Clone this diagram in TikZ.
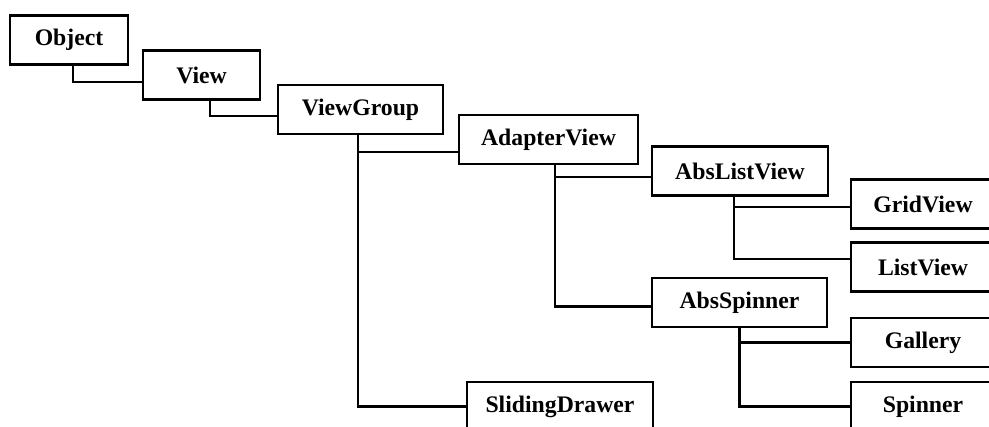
\documentclass[tikz,border=0pt]{standalone}
\usepackage{fontspec}
\setmainfont{Liberation Serif}
\usepackage{tikz}

\begin{document}
\begin{tikzpicture}[x=0.02cm, y=-0.02cm,
    cls/.style={draw, line width=1.4pt, fill=white, inner sep=0pt, minimum height=0.98cm, font=\fontsize{13.5}{16}\selectfont\bfseries},
    link/.style={line width=1.2pt}]
        \clip (0,0) rectangle (989,426);
        \fill[white] (0,0) rectangle (989,426);

        \node[cls, minimum width=2.36cm] (object) at (69,40) {Object};
        \node[cls, minimum width=2.34cm] (view) at (201.5,75) {View};
        \node[cls, minimum width=3.3cm] (viewgroup) at (360.5,109.5) {ViewGroup};
        \node[cls, minimum width=3.58cm] (adapterview) at (548.5,139.5) {AdapterView};
        \node[cls, minimum width=3.52cm] (abslistview) at (740,171) {AbsListView};
        \node[cls, minimum width=2.88cm] (gridview) at (923,204) {GridView};
        \node[cls, minimum width=2.88cm] (listview) at (923,267) {ListView};
        \node[cls, minimum width=3.5cm] (absspinner) at (739.5,302.5) {AbsSpinner};
        \node[cls, minimum width=2.88cm] (gallery) at (923,342.5) {Gallery};
        \node[cls, minimum width=2.88cm] (spinner) at (923,406.5) {Spinner};
        \node[cls, minimum width=3.72cm] (slidingdrawer) at (560,406.5) {SlidingDrawer};

        \draw[link] ([shift={(4,0)}]object.south) |- ([shift={(0,7)}]view.west);
        \draw[link] ([shift={(8.5,0)}]view.south) |- ([shift={(0,6.5)}]viewgroup.west);
        \draw[link] ([shift={(-2.5,0)}]viewgroup.south) |- ([shift={(0,12.5)}]adapterview.west);
        \draw[link] ([shift={(-2.5,0)}]viewgroup.south) |- (slidingdrawer.west);
        \draw[link] ([shift={(6.5,0)}]adapterview.south) |- ([shift={(0,6)}]abslistview.west);
        \draw[link] ([shift={(6.5,0)}]adapterview.south) |- ([shift={(0,4)}]absspinner.west);
        \draw[link] ([shift={(-6,0)}]abslistview.south) |- ([shift={(0,3)}]gridview.west);
        \draw[link] ([shift={(-6,0)}]abslistview.south) |- ([shift={(0,-8)}]listview.west);
        \draw[link] (absspinner.south) |- (gallery.west);
        \draw[link] (absspinner.south) |- (spinner.west);
    \end{tikzpicture}
\end{document}
